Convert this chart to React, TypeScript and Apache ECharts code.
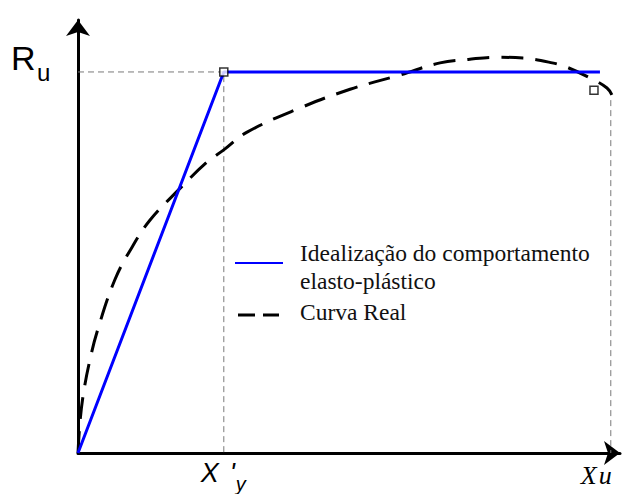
import React, { useEffect, useRef } from "react";
import * as echarts from "echarts";

// Normalised axes: displacement 0–100, resistance 0–100
const X_MAX = 100;
const Y_MAX = 100;

// Characteristic points
const X_YIELD = 26.9; // X'y
const X_ULT = 98.3; // Xu
const R_U = 88; // Ru
const X_PLATEAU_END = 96.3;

// Idealised elasto-plastic response
const idealX = [0, X_YIELD, X_PLATEAU_END];
const idealY = [0, R_U, R_U];

// Measured ("real") response
const realX = [0, 0.4, 1.1, 2.2, 3.5, 6.8, 10.0, 13.3, 18.5, 23.8, 26.9, 31.2, 41.0, 50.2, 59.4, 66.8, 72.0, 77.1, 82.1, 87.5, 90.2, 94.8, 97.6, 98.5];
const realY = [0, 7.6, 14.5, 21.5, 27.9, 40.0, 47.6, 53.8, 60.7, 67.2, 70.0, 74.1, 79.7, 84.0, 87.3, 90.1, 90.9, 91.4, 91.2, 90.1, 89.1, 86.4, 84.3, 82.7];

// Square markers: yield point and end of the real curve
const markerX = [X_YIELD, 95.2];
const markerY = [R_U, 83.8];

// Projection of Xu up to the curve
const ultGuideTop = 81.5;

const SERIES_IDEAL = "Idealização do comportamento elasto-plástico";
const SERIES_REAL = "Curva Real";

const zip = (xs: number[], ys: number[]) => xs.map((x, i) => [x, ys[i]]);

const SANS = "'Liberation Sans', Arial, sans-serif";
const SERIF = "'Liberation Serif', 'Times New Roman', serif";

function label(x: number, y: number, text: string, size: number, family: string, italic = false, fill = "#000") {
  return {
    type: "text",
    x,
    y,
    style: {
      text,
      fontSize: size,
      fontFamily: family,
      fontStyle: italic ? "italic" : "normal",
      fill,
      verticalAlign: "middle",
    },
  };
}

export default function App() {
  const ref = useRef<HTMLDivElement>(null);

  useEffect(() => {
    if (!ref.current) return;
    const chart = echarts.init(ref.current, null, { renderer: "svg" });

    const axisCommon = {
      type: "value" as const,
      min: 0,
      splitLine: { show: false },
      axisTick: { show: false },
      axisLabel: { show: false },
      axisLine: {
        show: true,
        symbol: ["none", "arrow"],
        symbolSize: [18, 16],
        lineStyle: { color: "#000", width: 3 },
      },
    };

    const guideStyle = { color: "#7a7a7a", width: 1, type: [6, 4] };

    chart.setOption({
      animation: false,
      backgroundColor: "#fff",
      grid: { left: 78, right: 9, top: 20, bottom: 41 },
      xAxis: { ...axisCommon, max: X_MAX },
      yAxis: { ...axisCommon, max: Y_MAX },
      series: [
        {
          name: "guide-yield",
          type: "line",
          data: [[0, R_U], [X_YIELD, R_U], [X_YIELD, 0]],
          symbol: "none",
          lineStyle: guideStyle,
          z: 1,
          silent: true,
        },
        {
          name: "guide-ult",
          type: "line",
          data: [[X_ULT, ultGuideTop], [X_ULT, 0]],
          symbol: "none",
          lineStyle: guideStyle,
          z: 1,
          silent: true,
        },
        {
          name: SERIES_REAL,
          type: "line",
          data: zip(realX, realY),
          symbol: "none",
          smooth: 0.4,
          lineStyle: { color: "#000", width: 3, type: [22, 12] },
          z: 3,
        },
        {
          name: SERIES_IDEAL,
          type: "line",
          data: zip(idealX, idealY),
          symbol: "none",
          lineStyle: { color: "#0000ff", width: 3 },
          z: 4,
        },
        {
          name: "markers",
          type: "scatter",
          data: zip(markerX, markerY),
          symbol: "rect",
          symbolSize: 8,
          itemStyle: { color: "#fff", borderColor: "#000", borderWidth: 1.5 },
          z: 5,
        },
      ],
    });

    const [xyPx, ruPx] = chart.convertToPixel({ gridIndex: 0 }, [X_YIELD, R_U]);
    const [xuPx, zeroPx] = chart.convertToPixel({ gridIndex: 0 }, [X_ULT, 0]);
    const [axisPx] = chart.convertToPixel({ gridIndex: 0 }, [0, 0]);

    const legendLeft = 235;
    const legendTextX = 300;

    chart.setOption({
      graphic: [
        // Ru label on the resistance axis
        label(axisPx - 67, ruPx - 13.5, "R", 34, SANS),
        label(axisPx - 41, ruPx + 0.7, "u", 24, SANS),
        // X'y label under the yield displacement
        label(xyPx - 23, zeroPx + 20, "X", 27, SANS, true),
        label(xyPx + 6, zeroPx + 20, "'", 27, SANS, true),
        label(xyPx + 12, zeroPx + 31, "y", 20, SANS, true),
        // Xu label under the ultimate displacement
        label(xuPx - 30, zeroPx + 22, "X", 26, SERIF, true),
        label(xuPx - 12, zeroPx + 22, "u", 26, SERIF, true),
        // Legend
        { type: "line", shape: { x1: legendLeft, y1: 263, x2: legendLeft + 48, y2: 263 }, style: { stroke: "#0000ff", lineWidth: 2 } },
        label(legendTextX, 253, "Idealização do comportamento", 23.5, SERIF, false, "#111"),
        label(legendTextX, 281, "elasto-plástico", 23.5, SERIF, false, "#111"),
        { type: "line", shape: { x1: legendLeft + 3, y1: 315, x2: legendLeft + 44, y2: 315 }, style: { stroke: "#000", lineWidth: 3, lineDash: [17, 8] } },
        label(legendTextX, 312, SERIES_REAL, 23.5, SERIF, false, "#111"),
      ],
    });

    return () => chart.dispose();
  }, []);

  return <div ref={ref} style={{ position: "fixed", left: 0, top: 0, width: 629, height: 494 }} />;
}
